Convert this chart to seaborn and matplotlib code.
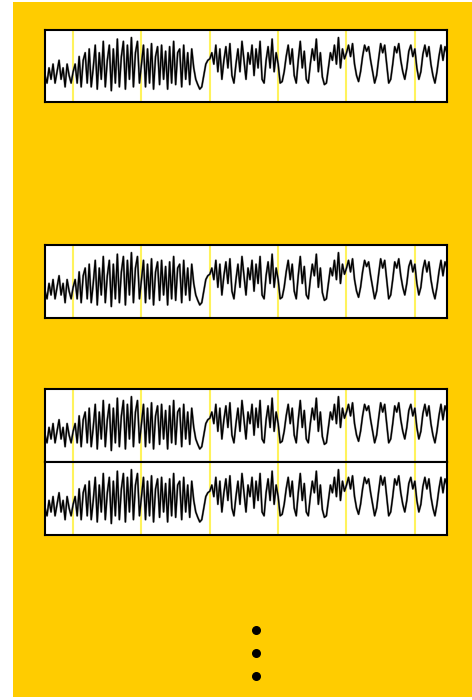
import numpy as np
import pandas as pd
import matplotlib
matplotlib.use("Agg")
from matplotlib import pyplot as plt
from matplotlib.patches import Rectangle
import seaborn as sns

# load curve, one reading every ~2px of the panel, as fraction of panel height
week0 = [0.40, 0.30, 0.50, 0.35, 0.55, 0.30, 0.45, 0.60, 0.35, 0.50, 0.25, 0.55, 0.40, 0.30]
week1 = [0.45, 0.55, 0.30, 0.65, 0.25, 0.60, 0.70, 0.30, 0.75, 0.25, 0.50, 0.80, 0.22, 0.70,
         0.35, 0.85, 0.25, 0.60, 0.80, 0.20, 0.75, 0.30, 0.88, 0.25, 0.65, 0.85, 0.22, 0.80,
         0.35, 0.90, 0.25, 0.70, 0.85, 0.30]
week2 = [0.55, 0.80, 0.25, 0.75, 0.30, 0.82, 0.22, 0.65, 0.78, 0.28, 0.80, 0.35, 0.72, 0.22,
         0.78, 0.30, 0.85, 0.28, 0.70, 0.75, 0.25, 0.80, 0.35, 0.70, 0.28, 0.75, 0.50, 0.35,
         0.28, 0.22, 0.25, 0.40, 0.55, 0.60]
week3 = [0.62, 0.70, 0.55, 0.80, 0.45, 0.75, 0.35, 0.60, 0.78, 0.50, 0.82, 0.40, 0.30, 0.55,
         0.75, 0.45, 0.85, 0.60, 0.35, 0.70, 0.55, 0.80, 0.40, 0.75, 0.50, 0.85, 0.35, 0.30,
         0.60, 0.78, 0.50, 0.88, 0.45, 0.70]
week4 = [0.55, 0.30, 0.32, 0.45, 0.65, 0.80, 0.55, 0.75, 0.40, 0.30, 0.60, 0.85, 0.50, 0.72,
         0.35, 0.30, 0.55, 0.75, 0.60, 0.88, 0.45, 0.70, 0.38, 0.28, 0.30, 0.50, 0.70, 0.60,
         0.80, 0.55, 0.90, 0.50, 0.75, 0.62]
week5 = [0.70, 0.80, 0.65, 0.82, 0.55, 0.40, 0.32, 0.45, 0.65, 0.80, 0.72, 0.78, 0.60, 0.45,
         0.30, 0.40, 0.62, 0.82, 0.70, 0.80, 0.55, 0.30, 0.35, 0.55, 0.78, 0.70, 0.82, 0.60,
         0.45, 0.35, 0.50, 0.72, 0.80, 0.65]
week6 = [0.75, 0.50, 0.35, 0.45, 0.68, 0.80, 0.65, 0.78, 0.55, 0.40, 0.30, 0.45, 0.65, 0.80,
         0.60, 0.78, 0.70]

weeks = [week0, week1, week2, week3, week4, week5, week6]
load = np.concatenate(weeks)
week_starts = np.cumsum([len(w) for w in weeks])[:-1]
ellipsis_dots = [0, 1, 2]

df = pd.DataFrame({"t": np.arange(len(load)), "load": load})

sns.set_style("white")

fig = plt.figure(figsize=(4.72, 7.0), dpi=100)
fig.patch.set_facecolor("#FFCC00")
fig.add_artist(Rectangle((0, 0), 13 / 472, 1, transform=fig.transFigure,
                         facecolor="white", edgecolor="none", zorder=0))
fig.add_artist(Rectangle((0, 1 - 2 / 700), 1, 2 / 700, transform=fig.transFigure,
                         facecolor="white", edgecolor="none", zorder=0))
fig.add_artist(Rectangle((0, 0), 1, 3 / 700, transform=fig.transFigure,
                         facecolor="white", edgecolor="none", zorder=0))

left, width = 45 / 472, 402 / 472
panels = [(102, 72), (318, 73), (462, 73), (535, 73)]  # (bottom px, height px)

for bot, h in panels:
    ax = fig.add_axes([left, 1 - bot / 700, width, h / 700])
    ax.set_facecolor("white")
    for x in week_starts:
        ax.axvline(x, color="#FFF35C", lw=1.5, zorder=1)
    sns.lineplot(data=df, x="t", y="load", ax=ax, color="#9a9a9a", lw=1.6, zorder=2)
    sns.lineplot(data=df, x="t", y="load", ax=ax, color="black", lw=1.0, zorder=3)
    ax.set_xlim(0, len(load) - 1)
    ax.set_ylim(0.05, 1.0)
    ax.set_xticks([])
    ax.set_yticks([])
    ax.set_xlabel("")
    ax.set_ylabel("")
    for spine in ax.spines.values():
        spine.set_visible(True)
        spine.set_color("black")
        spine.set_linewidth(1.5)
        spine.set_zorder(5)

# vertical ellipsis below the panels
dax = fig.add_axes([246 / 472, 1 - 686 / 700, 20 / 472, 66 / 700])
dax.scatter([0] * len(ellipsis_dots), ellipsis_dots, s=30, color="black")
dax.set_xlim(-1, 1)
dax.set_ylim(2.45, -0.45)
dax.axis("off")

fig.savefig("out.png", dpi=100, facecolor=fig.get_facecolor())
